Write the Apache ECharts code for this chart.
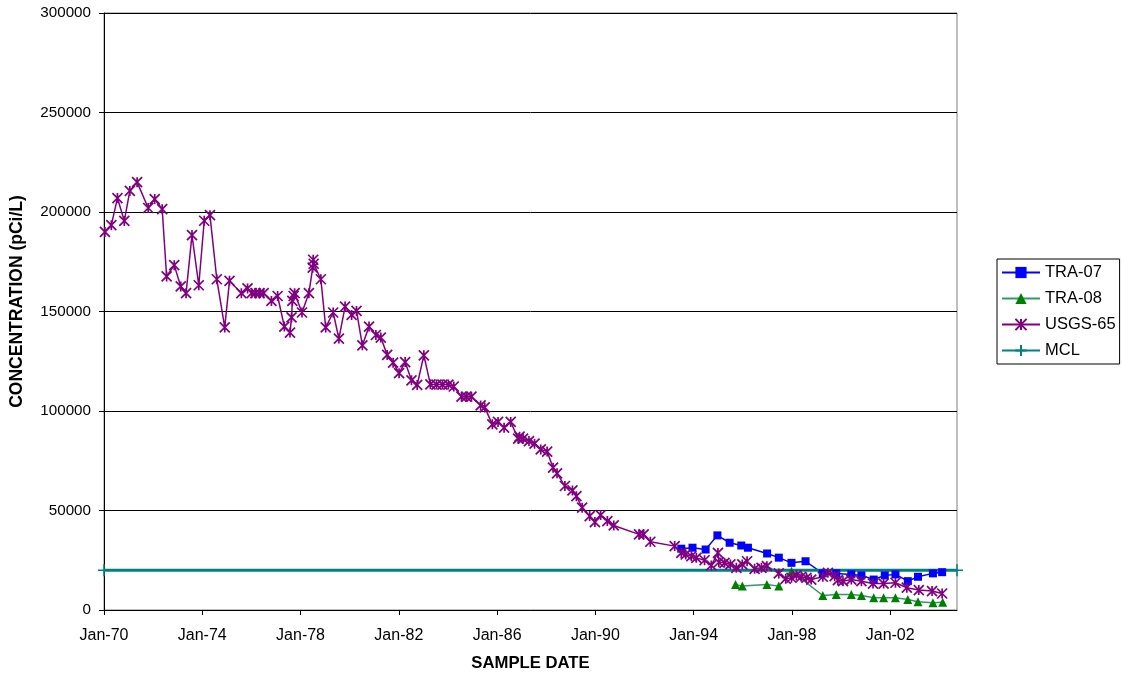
<!DOCTYPE html>
<html>
<head>
<meta charset="utf-8">
<script src="https://cdn.jsdelivr.net/npm/echarts@6/dist/echarts.min.js"></script>
<style>
html,body{margin:0;padding:0;background:#fff;}
#chart{width:1122px;height:677px;}
</style>
</head>
<body>
<div id="chart"></div>
<script>
// ---- data ----
const tra07Dates = ['1993-07-01','1993-12-15','1994-06-28','1994-12-20','1995-06-20','1995-12-10','1996-03-18','1996-12-28','1997-06-20','1997-12-25','1998-07-22','1999-04-05','1999-10-22','2000-06-02','2000-10-30','2001-05-01','2001-10-12','2002-03-20','2002-09-20','2003-02-18','2003-09-28','2004-02-12'];
const tra07Values = [30800,31300,30400,37500,33800,32400,31300,28400,26300,23700,24500,18400,18400,17900,17400,15300,17400,17900,14500,16700,18400,19000];

const tra08Dates = ['1995-09-16','1995-12-25','1996-12-25','1997-06-20','1997-12-25','1999-04-05','1999-10-22','2000-06-02','2000-10-30','2001-05-01','2001-09-25','2002-03-20','2002-09-20','2003-02-18','2003-09-28','2004-02-20'];
const tra08Values = [12800,12000,12800,12000,19500,7300,7800,7800,7300,6100,6100,6100,5300,4100,3600,3900];

const usgsDates = ['1970-01-15','1970-04-20','1970-07-20','1970-10-30','1971-01-20','1971-05-08','1971-10-20','1972-01-25','1972-05-15','1972-07-20','1972-11-10','1973-02-15','1973-05-05','1973-08-01','1973-11-10','1974-01-30','1974-04-25','1974-08-05','1974-12-01','1975-02-10','1975-08-05','1975-11-05','1976-01-05','1976-03-01','1976-05-01','1976-07-01','1976-10-25','1977-01-25','1977-05-05','1977-07-28','1977-08-20','1977-09-01','1977-09-20','1977-10-05','1978-01-22','1978-05-05','1978-07-01','1978-07-08','1978-07-15','1978-10-30','1979-01-10','1979-05-01','1979-07-25','1979-10-25','1980-01-30','1980-04-12','1980-07-08','1980-10-15','1981-01-25','1981-04-08','1981-07-12','1981-10-08','1982-01-05','1982-04-05','1982-07-08','1982-10-01','1983-01-08','1983-04-15','1983-07-15','1983-10-12','1984-01-08','1984-03-28','1984-07-20','1984-10-01','1984-12-16','1985-05-01','1985-07-01','1985-10-22','1986-01-15','1986-04-15','1986-07-22','1986-11-10','1986-12-01','1987-01-22','1987-04-20','1987-07-12','1987-10-12','1988-01-15','1988-04-12','1988-06-10','1988-10-05','1989-01-25','1989-03-25','1989-06-18','1989-10-08','1989-12-25','1990-03-20','1990-06-28','1990-10-01','1991-10-12','1991-12-20','1992-03-28','1993-03-25','1993-07-01','1993-09-05','1993-11-28','1994-02-10','1994-06-12','1994-09-20','1994-12-28','1995-01-10','1995-04-05','1995-07-01','1995-09-28','1995-12-25','1996-03-05','1996-06-25','1996-10-05','1996-12-25','1997-06-20','1997-10-01','1997-12-25','1998-03-08','1998-05-20','1998-08-05','1998-10-15','1999-04-05','1999-06-20','1999-09-28','1999-11-15','2000-01-30','2000-06-02','2000-10-30','2001-04-20','2001-09-25','2002-03-20','2002-09-05','2003-03-02','2003-09-15','2004-02-12'];
const usgsValues = [190000,193400,207000,195500,210600,215000,202000,206500,201400,167600,173300,162600,159200,188400,163200,195600,198400,166200,142000,165400,159200,161600,159200,159200,159200,159200,155300,157800,142400,139400,147000,155300,157800,159200,149500,159200,172000,176000,174000,166200,142000,149500,136400,152500,148300,150300,133000,142400,138200,136900,128200,124300,119000,124600,115400,113100,128000,113400,113300,113300,113300,112300,107200,107200,107200,102800,101800,93300,94500,91600,94500,86100,87100,86100,84900,83600,80700,79600,71500,68700,62300,60100,57200,51400,47200,44200,47700,44700,42500,38000,38000,34300,32100,28700,27900,27000,26200,25000,22400,28700,24000,23700,22900,21200,22900,24500,20700,21200,22000,18400,15700,16200,17400,16700,16200,15300,16700,18700,17000,15000,14500,15300,14500,13300,13300,13700,11200,10000,9500,8300];

const mclDates = ['1970-01-01','2004-09-20'];
const mclValues = [20000,20000];

const axisStart = '1970-01-01';
const axisEnd = '2004-09-20';
const yMin = 0, yMax = 300000, yStep = 50000;

// ---- helpers ----
function toTime(s){
  const p = s.split('-').map(Number);
  return Date.UTC(p[0], p[1]-1, p[2] || 15);
}
function pairs(dates, vals){ return dates.map((d,i)=>[toTime(d), vals[i]]); }
const FOUR_YEARS = 1461*86400000;

const chart = echarts.init(document.getElementById('chart'));
const font = '"Liberation Sans", Arial, sans-serif';
const starPath = 'path://M0,0L10,10M10,0L0,10M5,0L5,10';
const plusPath = 'path://M5,0L5,10M0,5L10,5';

chart.setOption({
  animation:false,
  backgroundColor:'#fff',
  textStyle:{fontFamily:font},
  grid:{left:104,right:165,top:13,bottom:67,show:true,borderColor:'#808080',borderWidth:1,
    containLabel:false,outerBoundsMode:'none'},
  legend:{
    orient:'vertical',left:997,top:259,
    padding:[5,4,5,4],itemGap:9,itemWidth:38,itemHeight:14,
    borderColor:'#000',borderWidth:1,
    textStyle:{fontFamily:font,fontSize:16.5,color:'#000'},
    data:['TRA-07','TRA-08','USGS-65','MCL']
  },
  xAxis:{
    type:'value',min:toTime(axisStart),max:toTime(axisEnd),interval:FOUR_YEARS,
    name:'SAMPLE DATE',nameLocation:'middle',nameGap:45,
    nameTextStyle:{fontFamily:font,fontSize:16.7,fontWeight:'bold',color:'#000'},
    axisLine:{show:true,onZero:false,lineStyle:{color:'#000',width:1}},
    axisTick:{show:true,length:5,lineStyle:{color:'#000'}},
    axisLabel:{margin:18,fontSize:16,color:'#000',fontFamily:font,showMaxLabel:false,
      formatter:v=>{const d=new Date(v);return 'Jan-'+String(d.getUTCFullYear()%100).padStart(2,'0');}},
    splitLine:{show:false}
  },
  yAxis:{
    type:'value',min:yMin,max:yMax,interval:yStep,
    name:'CONCENTRATION (pCi/L)',nameLocation:'middle',nameGap:78,
    nameTextStyle:{fontFamily:font,fontSize:17.5,fontWeight:'bold',color:'#000',padding:[0,0,0,20]},
    axisLine:{show:true,lineStyle:{color:'#000',width:1}},
    axisTick:{show:true,length:5,lineStyle:{color:'#000'}},
    axisLabel:{margin:13,fontSize:15.2,color:'#000',fontFamily:font,formatter:v=>String(v)},
    splitLine:{show:true,lineStyle:{color:'#000',width:1}}
  },
  series:[
    {name:'TRA-07',type:'line',data:pairs(tra07Dates,tra07Values),
      symbol:'rect',symbolSize:8,
      itemStyle:{color:'#0000FF'},lineStyle:{color:'#0000FF',width:1.5}},
    {name:'TRA-08',type:'line',data:pairs(tra08Dates,tra08Values),
      symbol:'triangle',symbolSize:9,
      itemStyle:{color:'#008000'},lineStyle:{color:'#339966',width:1.5}},
    {name:'USGS-65',type:'line',data:pairs(usgsDates,usgsValues),
      symbol:starPath,symbolSize:10,
      itemStyle:{color:'#800080',borderColor:'#800080',borderWidth:1.7},
      lineStyle:{color:'#800080',width:1.5}},
    {name:'MCL',type:'line',data:pairs(mclDates,mclValues),clip:false,
      symbol:plusPath,symbolSize:12,
      itemStyle:{color:'#008080',borderColor:'#008080',borderWidth:1.5},
      lineStyle:{color:'#008080',width:3}}
  ]
});
</script>
</body>
</html>
